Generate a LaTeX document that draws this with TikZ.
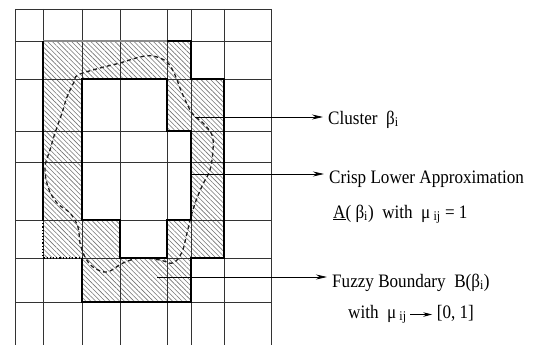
\documentclass[tikz,border=0pt]{standalone}
\usepackage{fontspec}
\setmainfont{Liberation Serif}[FakeStretch=0.9]
\usetikzlibrary{patterns.meta,arrows.meta}
\tikzset{
  gridline/.style={line width=0.9pt, black!80},
  hatch/.style={pattern={Lines[angle=-45,distance=3.4pt,line width=0.6pt]}, pattern color=black!55},
  thickb/.style={line width=2pt, black, line join=miter},
  cluster/.style={line width=1.3pt, black!88, dash pattern=on 4pt off 3pt},
  arr/.style={line width=0.8pt, -{Stealth[length=11pt,width=5pt]}, shorten >=5pt},
  lbl/.style={inner sep=0pt, anchor=base west, font=\fontsize{19}{22}\selectfont}
}
\newcommand{\longarr}{\tikz[x=1pt,y=1pt,baseline=-3.5pt]\draw[line width=0.8pt,-{Stealth[length=9pt,width=4.5pt]}] (0,0) -- (22,0);}
\begin{document}
\begin{tikzpicture}[x=1pt,y=-1pt]
\useasboundingbox (0,0) rectangle (537,345);
% hatched fuzzy boundary region
\fill[hatch, even odd rule]
  (43,41) -- (191,41) -- (191,79) -- (224,79) -- (224,258) -- (191,258) -- (191,302) -- (82,302) -- (82,258) -- (43,258) -- cycle
  (82,79) -- (167,79) -- (167,131) -- (191,131) -- (191,220) -- (167,220) -- (167,258) -- (120,258) -- (120,220) -- (82,220) -- cycle;
% grid
\foreach \x in {15,43,82,120,167,191,224,271} \draw[gridline] (\x,9) -- (\x,345);
\foreach \y in {9,41,79,131,162,220,258,302} \draw[gridline] (15,\y) -- (271,\y);
% cluster outline
\draw[cluster] plot[smooth cycle, tension=0.6] coordinates {
  (78,75) (100,68) (120,63) (140,57) (153,56) (167,62) (175,75) (182,93) (192,113)
  (203,123) (212,135) (213,150) (210,170) (203,184) (197,198) (192,213) (187,233) (182,252)
  (173,263) (160,260) (140,258) (123,263) (107,272) (93,267) (85,257) (80,243) (78,227)
  (70,213) (57,203) (48,187) (45,167) (50,150) (55,133) (62,113) (67,97) (74,82)};
% crisp lower approximation boundary
\draw[thickb] (82,79) -- (167,79) -- (167,131) -- (191,131) -- (191,220) -- (167,220) -- (167,258) -- (120,258) -- (120,220) -- (82,220) -- cycle;
% outer boundary
\draw[thickb] (167,41) -- (191,41) -- (191,79) -- (224,79) -- (224,258) -- (191,258) -- (191,302) -- (82,302) -- (82,258);
\draw[line width=1.6pt, black!45] (43,41) -- (167,41);
\draw[line width=1.6pt] (43,41) -- (43,220);
\draw[line width=1.2pt, dotted] (43,220) -- (43,258) -- (82,258);
% labels
\node[lbl] (cl) at (328,124) {Cluster\ \ β\textsubscript{i}};
\node[lbl] (cr1) at (329,183) {Crisp Lower Approximation};
\node[lbl] (cr2) at (333,218) {\underline{A}( β\textsubscript{i})\ \ with\ \ μ\,\textsubscript{ij} = 1};
\node[lbl] (fz1) at (332,287) {Fuzzy Boundary\ \ B(β\textsubscript{i})};
\node[lbl] (fz2) at (348,318) {with\ \ μ\,\textsubscript{ij}\,\longarr\ [0, 1]};
% arrows
\coordinate (a1) at (195,117);
\coordinate (a2) at (192,174);
\coordinate (a3) at (157,277);
\draw[arr] (a1) -- (a1 -| cl.west);
\draw[arr] (a2) -- (a2 -| cr1.west);
\draw[arr] (a3) -- (a3 -| fz1.west);
\end{tikzpicture}
\end{document}
